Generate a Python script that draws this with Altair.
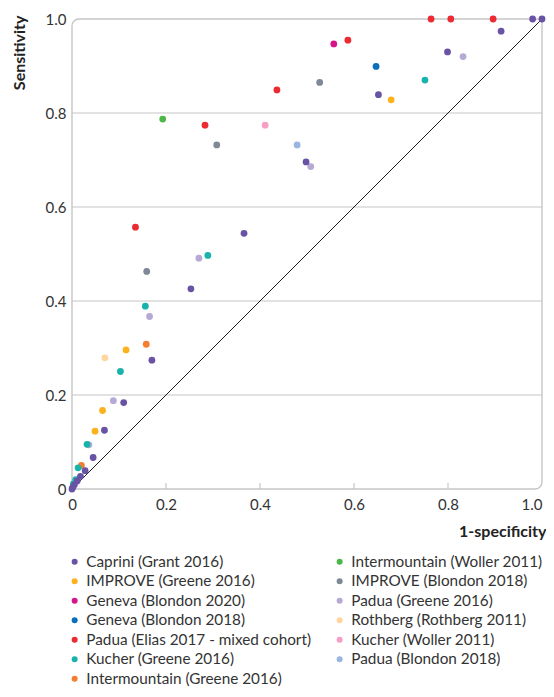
import altair as alt
import pandas as pd

FONT = "Lato"
W = 470
H = 470

# ---- data ----
caprini_x = [1.0, 0.980, 0.913, 0.799, 0.652, 0.498, 0.366, 0.253, 0.170, 0.110, 0.069, 0.045, 0.028, 0.018, 0.011, 0.005, 0.002, 0.0]
caprini_y = [1.0, 1.0, 0.974, 0.930, 0.839, 0.696, 0.544, 0.426, 0.274, 0.184, 0.125, 0.067, 0.039, 0.027, 0.017, 0.009, 0.004, 0.0]

improve_greene_x = [0.679, 0.115, 0.065, 0.049]
improve_greene_y = [0.828, 0.296, 0.167, 0.123]

geneva_2020_x = [0.557]
geneva_2020_y = [0.947]

geneva_2018_x = [0.647]
geneva_2018_y = [0.899]

padua_elias_x = [0.896, 0.806, 0.764, 0.587, 0.436, 0.283, 0.135]
padua_elias_y = [1.0, 1.0, 1.0, 0.955, 0.849, 0.774, 0.557]

kucher_greene_x = [0.751, 0.289, 0.156, 0.103, 0.032, 0.013, 0.008, 0.003]
kucher_greene_y = [0.870, 0.497, 0.389, 0.250, 0.095, 0.045, 0.020, 0.011]

intermountain_greene_x = [0.158, 0.020]
intermountain_greene_y = [0.308, 0.050]

intermountain_woller_x = [0.193]
intermountain_woller_y = [0.787]

improve_blondon_x = [0.527, 0.308, 0.159]
improve_blondon_y = [0.865, 0.732, 0.463]

padua_greene_x = [0.832, 0.508, 0.270, 0.165, 0.088, 0.036]
padua_greene_y = [0.920, 0.686, 0.491, 0.367, 0.188, 0.094]

rothberg_x = [0.070]
rothberg_y = [0.279]

kucher_woller_x = [0.411]
kucher_woller_y = [0.774]

padua_blondon_x = [0.479]
padua_blondon_y = [0.732]

# legend, two columns read down each column
column_1 = [
    "Caprini (Grant 2016)",
    "IMPROVE (Greene 2016)",
    "Geneva (Blondon 2020)",
    "Geneva (Blondon 2018)",
    "Padua (Elias 2017 - mixed cohort)",
    "Kucher (Greene 2016)",
    "Intermountain (Greene 2016)",
]
column_2 = [
    "Intermountain (Woller 2011)",
    "IMPROVE (Blondon 2018)",
    "Padua (Greene 2016)",
    "Rothberg (Rothberg 2011)",
    "Kucher (Woller 2011)",
    "Padua (Blondon 2018)",
]
colour_of = {
    "Caprini (Grant 2016)": "#6953a5",
    "IMPROVE (Greene 2016)": "#fbb21d",
    "Geneva (Blondon 2020)": "#d4168a",
    "Geneva (Blondon 2018)": "#0b6fbc",
    "Padua (Elias 2017 - mixed cohort)": "#eb2a31",
    "Kucher (Greene 2016)": "#1ab3ab",
    "Intermountain (Greene 2016)": "#f47d31",
    "Intermountain (Woller 2011)": "#4cb748",
    "IMPROVE (Blondon 2018)": "#7e8896",
    "Padua (Greene 2016)": "#b6a9d5",
    "Rothberg (Rothberg 2011)": "#fed59c",
    "Kucher (Woller 2011)": "#f49fc4",
    "Padua (Blondon 2018)": "#9ab5df",
}

series = [
    ("Padua (Blondon 2018)", padua_blondon_x, padua_blondon_y),
    ("Kucher (Woller 2011)", kucher_woller_x, kucher_woller_y),
    ("Rothberg (Rothberg 2011)", rothberg_x, rothberg_y),
    ("Intermountain (Woller 2011)", intermountain_woller_x, intermountain_woller_y),
    ("Geneva (Blondon 2018)", geneva_2018_x, geneva_2018_y),
    ("Geneva (Blondon 2020)", geneva_2020_x, geneva_2020_y),
    ("IMPROVE (Blondon 2018)", improve_blondon_x, improve_blondon_y),
    ("Padua (Elias 2017 - mixed cohort)", padua_elias_x, padua_elias_y),
    ("Padua (Greene 2016)", padua_greene_x, padua_greene_y),
    ("IMPROVE (Greene 2016)", improve_greene_x, improve_greene_y),
    ("Intermountain (Greene 2016)", intermountain_greene_x, intermountain_greene_y),
    ("Kucher (Greene 2016)", kucher_greene_x, kucher_greene_y),
    ("Caprini (Grant 2016)", caprini_x, caprini_y),
]

tick_values = [0, 0.2, 0.4, 0.6, 0.8, 1.0]
grid_values = [0.2, 0.4, 0.6, 0.8]

# ---- build tables ----
rows = []
for order, (name, xs, ys) in enumerate(series):
    for x, y in zip(xs, ys):
        rows.append({"model": name, "x": x, "y": y, "order": order})
points_df = pd.DataFrame(rows)

legend_domain = column_1 + column_2
legend_range = [colour_of[n] for n in legend_domain]

xs_scale = alt.Scale(domain=[0, 1], nice=False, zero=False)
ys_scale = alt.Scale(domain=[0, 1], nice=False, zero=False)

LINE = "#c6c6c6"
label_expr = "datum.value == 0 ? '0' : format(datum.value, '.1f')"

x_axis = alt.Axis(
    values=tick_values, labelExpr=label_expr, domain=False, ticks=False, tickSize=0,
    grid=False, labelPadding=8, labelFontSize=15, labelFont=FONT, labelColor="#333333",
    labelFlush=False, labelOverlap=False,
    labelAlign={"condition": {"test": "datum.value == 1", "value": "right"}, "value": "center"},
    title="1-specificity", titleFont=FONT, titleFontSize=16, titleFontWeight="bold",
    titleColor="#222222", titleAnchor="end", titleAlign="right", titleBaseline="alphabetic",
    titleX=474, titleY=47,
)
y_axis = alt.Axis(
    values=tick_values, labelExpr=label_expr, domain=False, ticks=False, tickSize=0,
    grid=False, labelPadding=6, labelFontSize=15, labelFont=FONT, labelColor="#333333",
    labelFlush=False, labelOverlap=False, labelBaseline="middle",
    title="Sensitivity", titleFont=FONT, titleFontSize=16, titleFontWeight="bold",
    titleColor="#222222", titleAngle=270, titleAlign="right", titleBaseline="alphabetic",
    titleX=-48, titleY=-4,
)

frame = alt.Chart(pd.DataFrame({"x0": [0], "x1": [1], "y0": [0], "y1": [1]})).mark_rect(
    fill="transparent", stroke=LINE, strokeWidth=1.4,
    cornerRadiusTopLeft=7, cornerRadiusBottomRight=7,
).encode(
    x=alt.X("x0:Q", scale=xs_scale, axis=x_axis), x2="x1:Q",
    y=alt.Y("y0:Q", scale=ys_scale, axis=y_axis), y2="y1:Q",
)

grid = alt.Chart(pd.DataFrame({"g": grid_values})).mark_rule(
    color=LINE, strokeWidth=1.2
).encode(y=alt.Y("g:Q", scale=ys_scale, axis=y_axis))

xticks = alt.Chart(pd.DataFrame({"t": grid_values})).mark_rule(
    color=LINE, strokeWidth=1.2
).encode(
    x=alt.X("t:Q", scale=xs_scale, axis=x_axis),
    y=alt.value(H), y2=alt.value(H - 6),
)

diag = alt.Chart(pd.DataFrame({"x": [0, 1], "y": [0, 1]})).mark_line(
    color="#1a1a1a", strokeWidth=1
).encode(
    x=alt.X("x:Q", scale=xs_scale, axis=x_axis),
    y=alt.Y("y:Q", scale=ys_scale, axis=y_axis),
)

pts = alt.Chart(points_df).mark_circle(size=46, opacity=1).encode(
    x=alt.X("x:Q", scale=xs_scale, axis=x_axis),
    y=alt.Y("y:Q", scale=ys_scale, axis=y_axis),
    color=alt.Color("model:N", scale=alt.Scale(domain=legend_domain, range=legend_range),
                    legend=alt.Legend(
                        orient="none", legendX=-5, legendY=535, columns=2, direction="vertical",
                        title=None, symbolType="circle", symbolSize=36, symbolStrokeWidth=0,
                        labelFont=FONT, labelFontSize=15.3, labelColor="#333333", labelLimit=0,
                        labelOffset=4, rowPadding=3.5, columnPadding=20, padding=0,
                    )),
    order=alt.Order("order:Q"),
)

chart = alt.layer(frame, grid, xticks, diag, pts).properties(
    width=W, height=H,
    padding={"left": 64, "top": 11, "right": 4, "bottom": 200},
    autosize=alt.AutoSizeParams(type="none"),
).configure_view(stroke=None)

chart.save("out.html", embed_options={"renderer": "svg", "actions": False})
